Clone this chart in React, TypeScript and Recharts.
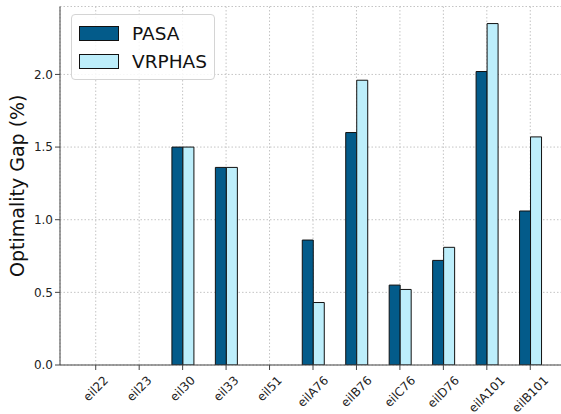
// App.tsx — grouped bar chart of optimality gaps (PASA vs VRPHAS)

import { BarChart, Bar, XAxis, YAxis, CartesianGrid } from "recharts";

const instances = ["eil22", "eil23", "eil30", "eil33", "eil51", "eilA76", "eilB76", "eilC76", "eilD76", "eilA101", "eilB101"];
const pasa = [0, 0, 1.5, 1.36, 0, 0.86, 1.6, 0.55, 0.72, 2.02, 1.06];
const vrphas = [0, 0, 1.5, 1.36, 0, 0.43, 1.96, 0.52, 0.81, 2.35, 1.57];
const yTicks = [0, 0.5, 1.0, 1.5, 2.0];

const PASA_COLOR = "#035b8a";
const VRPHAS_COLOR = "#bdeefb";
const FONT = "'DejaVu Sans', sans-serif";

const data = instances.map((name, i) => ({ name, pasa: pasa[i], vrphas: vrphas[i] }));

// rough DejaVu Sans advance widths (em) for the tick labels
const CHAR_W: Record<string, number> = { e: 0.615, i: 0.278, l: 0.278, A: 0.684, B: 0.686, C: 0.698, D: 0.77 };
const textWidth = (s: string, size: number) =>
    s.split("").reduce((w, c) => w + (CHAR_W[c] ?? 0.636), 0) * size;

const XTick = (props: any) => {
    const { x, y, payload } = props;
    const size = 12;
    const w = textWidth(payload.value, size);
    const half = ((w + size * 0.8) * 0.707) / 2;
    const cy = y + 3 + half;
    return (
        <text
            x={x}
            y={cy}
            textAnchor="middle"
            dominantBaseline="central"
            transform={`rotate(-45, ${x}, ${cy})`}
            fontSize={size}
            fontFamily={FONT}
            fill="#222"
        >
            {payload.value}
        </text>
    );
};

const YLabel = (props: any) => {
    const { viewBox } = props;
    const cx = 17;
    const cy = viewBox.y + viewBox.height / 2;
    return (
        <text x={cx} y={cy} textAnchor="middle" dominantBaseline="central" transform={`rotate(-90, ${cx}, ${cy})`}
            fontSize={19} fontFamily={FONT} fill="#111">
            Optimality Gap (%)
        </text>
    );
};

const legendItems = [
    { label: "PASA", color: PASA_COLOR },
    { label: "VRPHAS", color: VRPHAS_COLOR },
];

export default function App() {
    return (
        <div style={{ position: "absolute", left: 0, top: 0, width: 561, height: 414, overflow: "hidden", background: "#fff" }}>
            <BarChart width={566} height={414} data={data} barGap={0} margin={{ top: 6.5, right: 0, bottom: 0, left: 0 }}>
                <CartesianGrid stroke="#c4c4c4" strokeDasharray="1.5 2" />
                <XAxis
                    dataKey="name"
                    height={49}
                    padding={{ left: 14, right: 14 }}
                    interval={0}
                    tick={<XTick />}
                    tickSize={5}
                    stroke="#444"
                    tickLine={{ stroke: "#444" }}
                />
                <YAxis
                    width={60}
                    domain={[0, 2.4675]}
                    ticks={yTicks}
                    tickFormatter={(v: number) => v.toFixed(1)}
                    tick={{ fontSize: 12, fontFamily: FONT, fill: "#222" }}
                    tickSize={5}
                    stroke="#444"
                    label={<YLabel />}
                    allowDataOverflow
                />
                {/* top spine */}
                <XAxis xAxisId="top" orientation="top" dataKey="name" height={0} tick={false} tickLine={false} stroke="#444" />
                <Bar dataKey="pasa" fill={PASA_COLOR} stroke="#111" strokeWidth={1} barSize={11} isAnimationActive={false} />
                <Bar dataKey="vrphas" fill={VRPHAS_COLOR} stroke="#111" strokeWidth={1} barSize={11} isAnimationActive={false} />
            </BarChart>
            <div style={{
                position: "absolute", left: 71, top: 14, width: 142, height: 64,
                border: "1px solid #d4d4d4", borderRadius: 4, background: "rgba(255,255,255,0.85)",
                fontFamily: FONT, fontSize: 18.5, color: "#111",
            }}>
                {legendItems.map((it, i) => (
                    <div key={it.label} style={{ position: "absolute", left: 7, top: 6 + i * 28, height: 24, display: "flex", alignItems: "center" }}>
                        <span style={{ display: "inline-block", width: 38, height: 13, background: it.color, border: "1px solid #111", marginRight: 13 }} />
                        <span>{it.label}</span>
                    </div>
                ))}
            </div>
        </div>
    );
}
